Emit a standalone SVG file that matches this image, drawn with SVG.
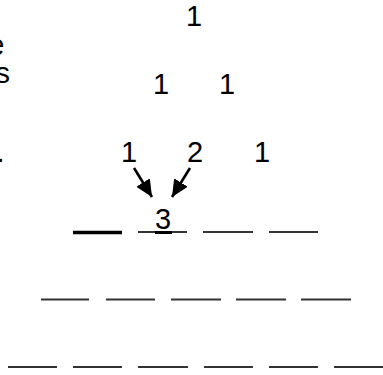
<svg xmlns="http://www.w3.org/2000/svg" width="383" height="375" viewBox="0 0 383 375">
<style>
text{font-family:"Liberation Sans",Arial,sans-serif;font-size:29px;fill:#000}
.n{text-anchor:middle}
.blank{stroke:#333;stroke-width:2}
.thick{stroke:#000;stroke-width:3.5}
.arr{stroke:#000;stroke-width:2.6;fill:none}
</style>
<defs>
<marker id="ah" markerUnits="userSpaceOnUse" markerWidth="18" markerHeight="16" refX="17" refY="8" orient="auto">
<path d="M0,0 L17,8 L0,16 Z" fill="#000"/>
</marker>
</defs>
<rect width="383" height="375" fill="#fff"/>
<g id="margin-text">
<text x="4.5" y="55" text-anchor="end">e</text>
<text x="10" y="83" text-anchor="end">s</text>
<text x="4.5" y="162" text-anchor="end">.</text>
</g>
<g id="row1"><text class="n" x="194" y="26">1</text></g>
<g id="row2"><text class="n" x="161" y="94">1</text><text class="n" x="227" y="94">1</text></g>
<g id="row3"><text class="n" x="129" y="162">1</text><text class="n" x="195" y="162">2</text><text class="n" x="262" y="162">1</text></g>
<g id="row4">
<line class="thick" x1="73" y1="232.5" x2="122" y2="232.5"/>
<line class="blank" x1="138" y1="232" x2="187" y2="232"/>
<text class="n" x="163" y="229">3</text>
<rect x="155" y="231" width="17" height="3" fill="#000"/>
<line class="blank" x1="203" y1="232" x2="253" y2="232"/>
<line class="blank" x1="269" y1="232" x2="318" y2="232"/>
</g>
<g id="row5">
<line class="blank" x1="41" y1="299.5" x2="89" y2="299.5"/>
<line class="blank" x1="106" y1="299.5" x2="155" y2="299.5"/>
<line class="blank" x1="171" y1="299.5" x2="221" y2="299.5"/>
<line class="blank" x1="236" y1="299.5" x2="286" y2="299.5"/>
<line class="blank" x1="301" y1="299.5" x2="351" y2="299.5"/>
</g>
<g id="row6">
<line class="blank" x1="8" y1="367" x2="57" y2="367"/>
<line class="blank" x1="73" y1="367" x2="122" y2="367"/>
<line class="blank" x1="138" y1="367" x2="188" y2="367"/>
<line class="blank" x1="204" y1="367" x2="253" y2="367"/>
<line class="blank" x1="269" y1="367" x2="318" y2="367"/>
<line class="blank" x1="334" y1="367" x2="383" y2="367"/>
</g>
<g id="connectors">
<line class="arr" x1="134" y1="168" x2="152" y2="197" marker-end="url(#ah)"/>
<line class="arr" x1="190" y1="168" x2="172" y2="197" marker-end="url(#ah)"/>
</g>
</svg>
